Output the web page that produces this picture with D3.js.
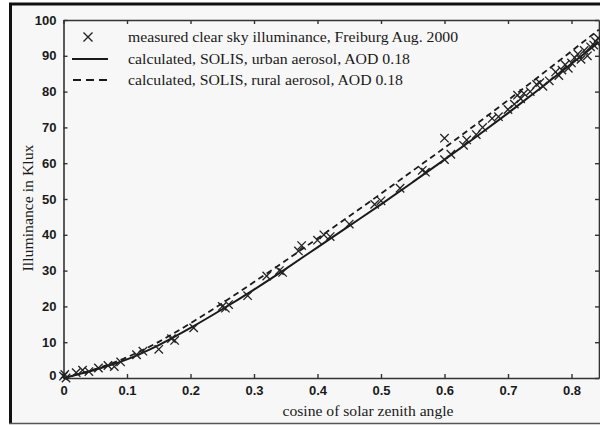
<!DOCTYPE html>
<html><head><meta charset="utf-8">
<script src="https://cdn.jsdelivr.net/npm/d3@7"></script>
<style>
html,body{margin:0;padding:0;background:#fff;}
svg{display:block;}
</style></head>
<body>
<svg id="c" width="600" height="425"></svg>
<script>
// ---- data ----
const curveX = [0,0.05,0.1,0.15,0.2,0.25,0.3,0.35,0.4,0.45,0.5,0.55,0.6,0.65,0.7,0.75,0.8,0.843];
const urbanY = [0,2.3,5.2,9.2,14.0,19.2,24.7,30.5,36.5,42.5,48.5,54.7,61.0,67.4,74.0,80.8,87.8,93.8];
const ruralY = [0,2.5,5.8,10.1,15.3,20.9,26.8,32.8,39.0,45.2,51.5,57.9,64.3,70.9,77.6,84.4,91.3,97.3];
const measX = [0,0.002,0.004,0.02,0.03,0.04,0.055,0.07,0.08,0.09,0.115,0.125,0.15,0.17,0.175,0.205,0.25,0.255,0.26,0.29,0.32,0.34,0.345,0.37,0.375,0.40,0.41,0.42,0.45,0.49,0.5,0.53,0.565,0.57,0.6,0.6,0.61,0.63,0.635,0.65,0.66,0.675,0.685,0.7,0.71,0.715,0.72,0.725,0.735,0.745,0.75,0.755,0.765,0.775,0.78,0.785,0.79,0.795,0.8,0.805,0.81,0.815,0.82,0.825,0.83,0.835,0.838,0.842];
const measY = [0.5,1,0,1.5,2.2,1.8,2.8,3.5,3.2,4.5,6.5,7.5,8,11,10.5,14,20,19.5,20.5,23,28.5,30,29.5,35.5,37,38.5,40,39.5,43,48.5,49.5,53,58,57.5,61,67,62.5,65,66.5,68,70,72.5,73,75,76.5,79,78,79.5,80,82,82.5,81.5,83,85.5,84.5,86,87.5,86.5,88,89.5,90.5,89,91.5,90,92.5,93,94,95];
const xTicks = [0,0.1,0.2,0.3,0.4,0.5,0.6,0.7,0.8];
const yTicks = [0,10,20,30,40,50,60,70,80,90,100];
const legendLabels = [
  "measured clear sky illuminance, Freiburg Aug. 2000",
  "calculated, SOLIS, urban aerosol, AOD 0.18",
  "calculated, SOLIS, rural aerosol, AOD 0.18"
];
const xTitle = "cosine of solar zenith angle";
const yTitle = "Illuminance in Klux";

// ---- layout ----
const svg = d3.select("#c");
const L = 63.5, R = 599, T = 20, B = 378;
const x = d3.scaleLinear().domain([0, (R - L) / 635]).range([L, R]);
const y = d3.scaleLinear().domain([0, 100]).range([B, T]);
const ink = "#1a1a1a";

// background + outer frame
svg.append("rect").attr("x", 10).attr("y", 4).attr("width", 590).attr("height", 419).attr("fill", "#f7f7f7");
svg.append("line").attr("x1", 9).attr("x2", 600).attr("y1", 4).attr("y2", 4).attr("stroke", "#111").attr("stroke-width", 3);
svg.append("line").attr("x1", 10.5).attr("x2", 10.5).attr("y1", 3).attr("y2", 424).attr("stroke", "#111").attr("stroke-width", 3);
svg.append("line").attr("x1", 9).attr("x2", 600).attr("y1", 423.5).attr("y2", 423.5).attr("stroke", "#555").attr("stroke-width", 1.5);

// axes (box with inward ticks)
const tickLen = 4;
const gx = svg.append("g").attr("transform", `translate(0,${B})`)
  .call(d3.axisBottom(x).tickValues(xTicks).tickSizeInner(-tickLen).tickSizeOuter(0).tickPadding(8).tickFormat(d => d === 0 ? "0" : d3.format(".1f")(d)));
const gxt = svg.append("g").attr("transform", `translate(0,${T})`)
  .call(d3.axisTop(x).tickValues(xTicks).tickSizeInner(-tickLen).tickSizeOuter(0).tickFormat(""));
const gy = svg.append("g").attr("transform", `translate(${L},0)`)
  .call(d3.axisLeft(y).tickValues(yTicks).tickSizeInner(-tickLen).tickSizeOuter(0).tickPadding(7));
const gyr = svg.append("g").attr("transform", `translate(${R},0)`)
  .call(d3.axisRight(y).tickValues(yTicks).tickSizeInner(-tickLen).tickSizeOuter(0).tickFormat(""));
[gx, gxt, gy, gyr].forEach(g => {
  g.select(".domain").attr("stroke", "#333").attr("stroke-width", 1.6);
  g.selectAll(".tick line").attr("stroke", "#333").attr("stroke-width", 1.4);
  g.selectAll("text").attr("fill", ink).attr("font-family", "Liberation Sans, Arial, sans-serif")
    .attr("font-weight", "bold").attr("font-size", 13);
});
gy.selectAll(".tick").filter(d => d === 0).select("text").attr("dy", "0.15em");

// curves
const line = d3.line().x(d => x(d[0])).y(d => y(d[1])).curve(d3.curveMonotoneX);
svg.append("path").datum(curveX.map((v, i) => [v, ruralY[i]])).attr("d", line)
  .attr("fill", "none").attr("stroke", ink).attr("stroke-width", 1.8).attr("stroke-dasharray", "6,4");
svg.append("path").datum(curveX.map((v, i) => [v, urbanY[i]])).attr("d", line)
  .attr("fill", "none").attr("stroke", ink).attr("stroke-width", 2);

// measured markers
const s = 4.2;
const cross = (cx, cy, r) => `M${cx - r},${cy - r}L${cx + r},${cy + r}M${cx - r},${cy + r}L${cx + r},${cy - r}`;
svg.append("g").selectAll("path").data(measX.map((v, i) => [v, measY[i]])).join("path")
  .attr("d", d => cross(x(d[0]), y(d[1]), s))
  .attr("stroke", "#222").attr("stroke-width", 1.3).attr("fill", "none");

// legend
const lg = svg.append("g");
lg.append("path").attr("d", cross(88, 37, 4.5)).attr("stroke", "#222").attr("stroke-width", 1.4);
lg.append("line").attr("x1", 72).attr("x2", 108).attr("y1", 59).attr("y2", 59).attr("stroke", ink).attr("stroke-width", 2);
lg.append("line").attr("x1", 73).attr("x2", 108).attr("y1", 80).attr("y2", 80).attr("stroke", ink).attr("stroke-width", 2).attr("stroke-dasharray", "8,5");
const lgY = [37, 59, 80];
const lgW = [330, 282, 275];
legendLabels.forEach((t, i) => {
  lg.append("text").attr("x", 128).attr("y", lgY[i]).attr("dy", "0.35em")
    .attr("font-family", "Liberation Serif, Times New Roman, serif").attr("font-size", 14)
    .attr("fill", ink).attr("textLength", lgW[i]).attr("lengthAdjust", "spacingAndGlyphs").text(t);
});

// axis titles
svg.append("text").attr("x", 368).attr("y", 416).attr("text-anchor", "middle")
  .attr("font-family", "Liberation Serif, Times New Roman, serif").attr("font-size", 14).attr("fill", ink)
  .attr("textLength", 171).attr("lengthAdjust", "spacingAndGlyphs").text(xTitle);
svg.append("text").attr("transform", "translate(33,208) rotate(-90)").attr("text-anchor", "middle")
  .attr("font-family", "Liberation Serif, Times New Roman, serif").attr("font-size", 14).attr("fill", ink)
  .attr("textLength", 127).attr("lengthAdjust", "spacingAndGlyphs").text(yTitle);
</script>
</body></html>
